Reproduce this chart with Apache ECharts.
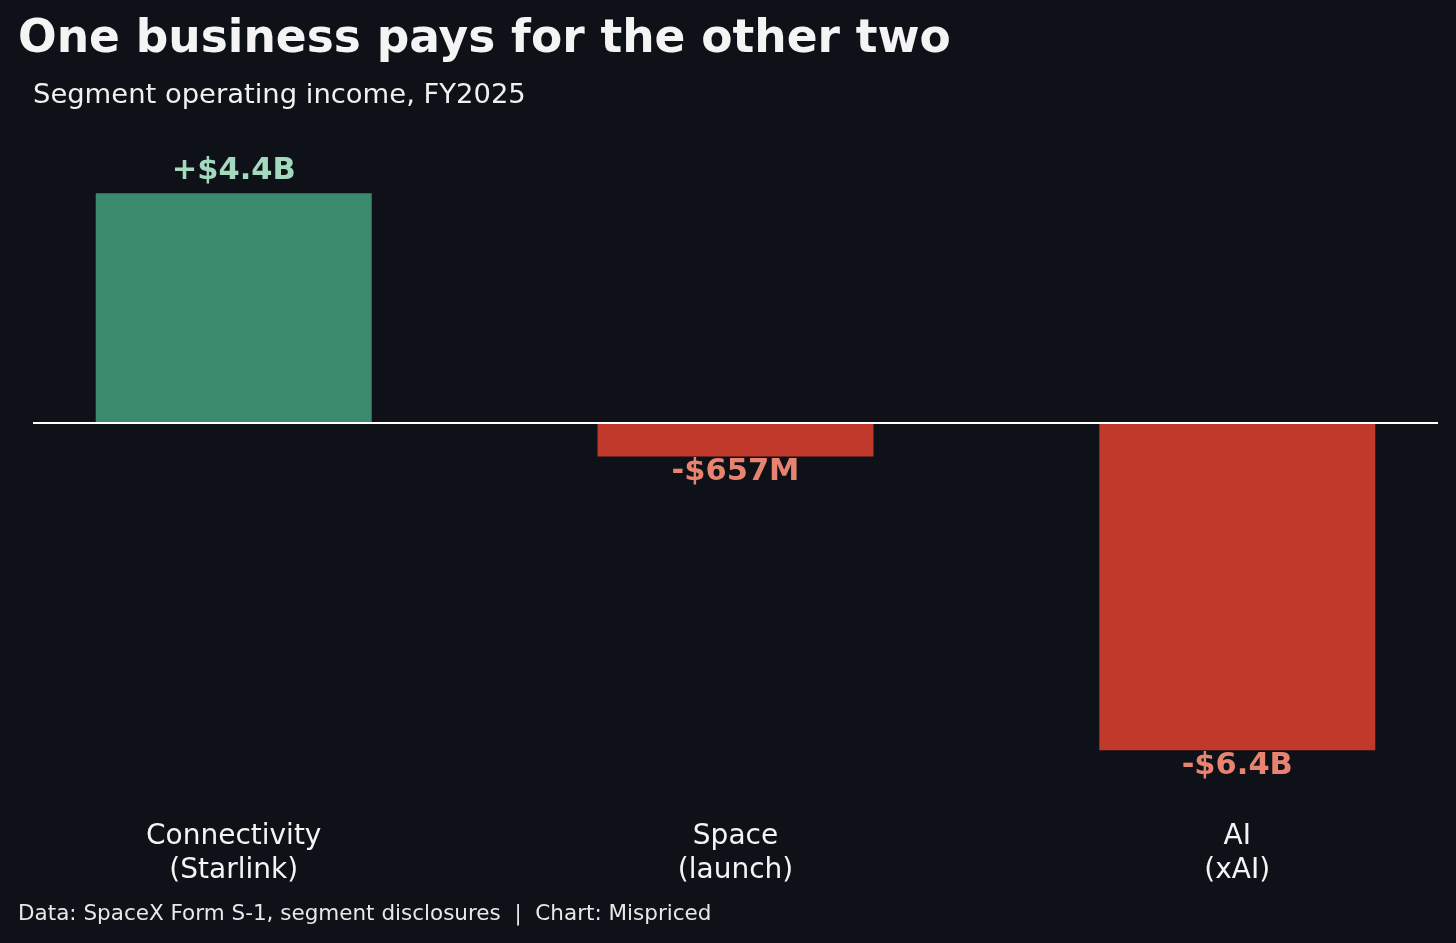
<!DOCTYPE html>
<html>
<head>
<meta charset="utf-8">
<script src="https://cdn.jsdelivr.net/npm/echarts@6/dist/echarts.min.js"></script>
<style>
  html, body { margin: 0; padding: 0; background: #0e1117; }
  #main { width: 1456px; height: 943px; }
</style>
</head>
<body>
<div id="main"></div>
<script>
// segment data, FY2025 (billions)
var categories = ['Connectivity\n(Starlink)', 'Space\n(launch)', 'AI\n(xAI)'];
var positions = [0, 1, 2];
var values = [4.4, -0.657, -6.3];
var valueLabels = ['+$4.4B', '-$657M', '-$6.4B'];

var green = '#3b8a6d', red = '#c0392b';
var greenText = '#a3d9bd', redText = '#e8836f';

var barData = [];
for (var i = 0; i < values.length; i++) {
  var pos = values[i] >= 0;
  barData.push({
    value: [positions[i], values[i]],
    itemStyle: { color: pos ? green : red },
    label: {
      show: true,
      position: pos ? 'top' : 'bottom',
      distance: pos ? 7 : 0,
      formatter: valueLabels[i],
      color: pos ? greenText : redText
    }
  });
}

var chart = echarts.init(document.getElementById('main'));
var option = {
  backgroundColor: '#0e1117',
  animation: false,
  textStyle: { fontFamily: 'DejaVu Sans' },
  title: [
    {
      text: 'One business pays for the other two',
      left: 18, top: 17, padding: 0,
      textStyle: { color: '#f4f4f4', fontSize: 45.5, fontWeight: 'bold', lineHeight: 46, fontFamily: 'DejaVu Sans' }
    },
    {
      text: 'Segment operating income, FY2025',
      left: 33, top: 82, padding: 0,
      textStyle: { color: '#f0f0f0', fontSize: 27.4, fontWeight: 'normal', lineHeight: 28, fontFamily: 'DejaVu Sans' }
    },
    {
      text: 'Data: SpaceX Form S-1, segment disclosures  |  Chart: Mispriced',
      left: 18, top: 903, padding: 0,
      textStyle: { color: '#e8e8e8', fontSize: 21.5, fontWeight: 'normal', lineHeight: 22, fontFamily: 'DejaVu Sans' }
    }
  ],
  grid: { left: 33, right: 18, top: 162, height: 624.6 },
  xAxis: {
    type: 'value',
    min: -0.4, max: 2.4,
    splitLine: { show: false },
    axisLine: { show: false, onZero: false },
    axisTick: { show: false },
    axisLabel: {
      customValues: positions,
      formatter: function (v) { return categories[Math.round(v)]; },
      color: '#f4f4f4',
      fontSize: 28,
      lineHeight: 34,
      margin: 33,
      fontFamily: 'DejaVu Sans'
    }
  },
  yAxis: {
    type: 'value',
    min: -7, max: 5,
    show: false,
    splitLine: { show: false }
  },
  series: [{
    type: 'bar',
    barWidth: 276,
    data: barData,
    label: { fontSize: 30.5, fontWeight: 'bold', fontFamily: 'DejaVu Sans' },
    markLine: {
      silent: true,
      symbol: 'none',
      label: { show: false },
      lineStyle: { color: '#ffffff', width: 2, type: 'solid' },
      data: [{ yAxis: 0 }]
    }
  }]
};
chart.setOption(option);
</script>
</body>
</html>
